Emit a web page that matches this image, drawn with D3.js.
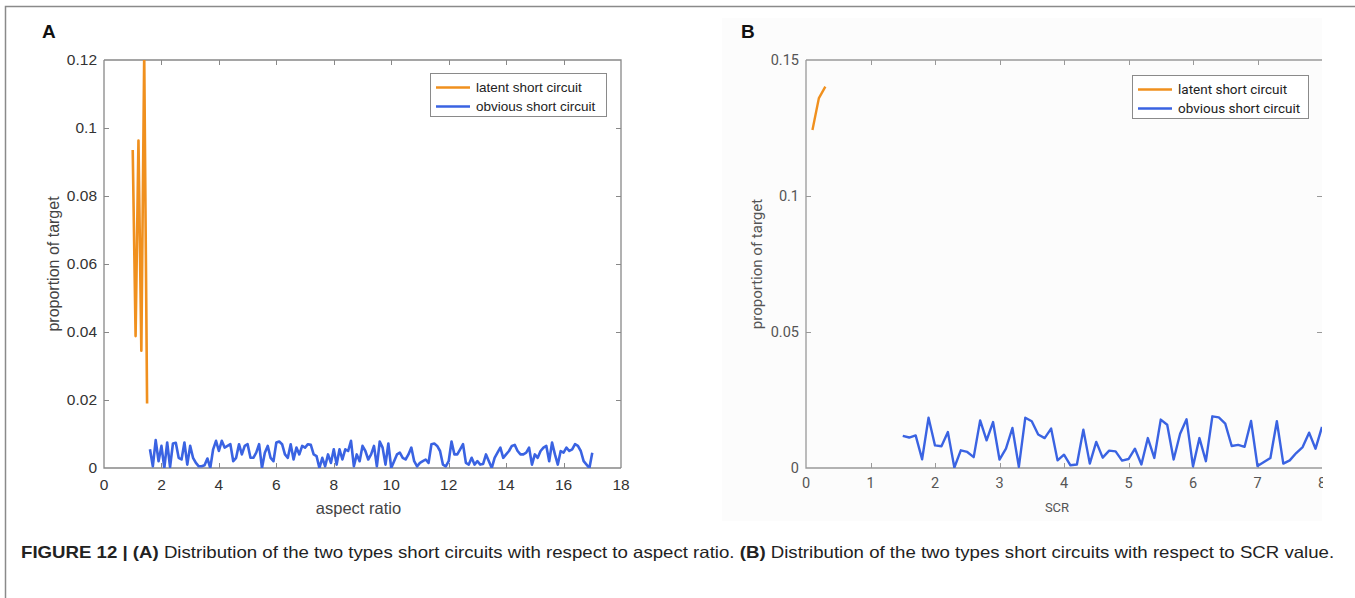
<!DOCTYPE html>
<html>
<head>
<meta charset="utf-8">
<script src="https://cdn.jsdelivr.net/npm/d3@7"></script>
<style>
  body { margin: 0; background: #fff; }
  svg { display: block; }
</style>
</head>
<body>
<div id="chart"></div>
<script>
// ---- data ----
// panel A: aspect ratio
var latentA_x = [1.0, 1.1, 1.2, 1.3, 1.4, 1.5];
var latentA_y = [0.0935, 0.0388, 0.0963, 0.0345, 0.1215, 0.019];
var obviousA_start = 1.6, obviousA_step = 0.1;
var obviousA_y = [
  0.0055, 0.0005, 0.0082, 0.002, 0.0065, 0.0, 0.0075, 0.0003, 0.0072, 0.0074,
  0.003, 0.0025, 0.0075, 0.001, 0.0065, 0.003, 0.0015, 0.0005, 0.0005, 0.0008,
  0.0028, 0.0, 0.0055, 0.008, 0.005, 0.008, 0.006, 0.0065, 0.007, 0.002,
  0.003, 0.007, 0.004, 0.0065, 0.007, 0.003, 0.003, 0.0045, 0.007, 0.0,
  0.0045, 0.0065, 0.003, 0.002, 0.0075, 0.0078, 0.007, 0.004, 0.003, 0.007,
  0.0025, 0.006, 0.004, 0.0065, 0.006, 0.007, 0.0068, 0.004, 0.0035, 0.0,
  0.003, 0.0005, 0.004, 0.0015, 0.0055, 0.001, 0.0055, 0.0025, 0.0055, 0.005,
  0.008, 0.0005, 0.004, 0.002, 0.0065, 0.005, 0.0025, 0.004, 0.0065, 0.0005,
  0.0078, 0.006, 0.001, 0.0072, 0.0, 0.002, 0.004, 0.0045, 0.003, 0.0025,
  0.004, 0.006, 0.002, 0.0005, 0.0015, 0.002, 0.0025, 0.0015, 0.007, 0.0072,
  0.0065, 0.005, 0.001, 0.0005, 0.002, 0.0078, 0.004, 0.004, 0.0055, 0.007,
  0.0015, 0.001, 0.003, 0.001, 0.002, 0.001, 0.0012, 0.004, 0.002, 0.0,
  0.003, 0.0045, 0.006, 0.003, 0.004, 0.005, 0.0065, 0.0068, 0.005, 0.004,
  0.004, 0.0045, 0.006, 0.001, 0.004, 0.003, 0.005, 0.006, 0.0065, 0.002,
  0.0075, 0.004, 0.001, 0.005, 0.0045, 0.006, 0.005, 0.0055, 0.007, 0.0065,
  0.005, 0.002, 0.001, 0.0, 0.0045
];
var ticksAx = [0, 2, 4, 6, 8, 10, 12, 14, 16, 18];
var ticksAy = [0, 0.02, 0.04, 0.06, 0.08, 0.1, 0.12];

// panel B: SCR
var latentB_x = [0.1, 0.2, 0.3];
var latentB_y = [0.1243, 0.136, 0.1402];
var obviousB_start = 1.5, obviousB_step = 0.1;
var obviousB_y = [
  0.0118, 0.0112, 0.012, 0.0032, 0.0185, 0.0083, 0.008, 0.0132, 0.0002, 0.0065,
  0.0059, 0.004, 0.0175, 0.0102, 0.0169, 0.0031, 0.0071, 0.0147, 0.0004, 0.0185,
  0.0172, 0.0123, 0.011, 0.0145, 0.0028, 0.0049, 0.001, 0.0013, 0.0141, 0.0016,
  0.0096, 0.0038, 0.0064, 0.0061, 0.0027, 0.0033, 0.0071, 0.0013, 0.011, 0.0037,
  0.0178, 0.0159, 0.0031, 0.0126, 0.0179, 0.0006, 0.011, 0.0025, 0.019, 0.0186,
  0.0163, 0.0081, 0.0085, 0.0078, 0.0173, 0.0007, 0.0022, 0.0037, 0.0172, 0.0016,
  0.0028, 0.0055, 0.0077, 0.013, 0.0071, 0.0151
];
var ticksBx = [0, 1, 2, 3, 4, 5, 6, 7, 8];
var ticksBy = [0, 0.05, 0.1, 0.15];

var seriesNames = ['latent short circuit', 'obvious short circuit'];
var colors = ['#f0901e', '#3a63e2'];

function toPoints(xs, ys) {
  return ys.map(function(v, i) { return [xs[i], v]; });
}
function gridPoints(start, step, ys) {
  return ys.map(function(v, i) { return [+(start + i * step).toFixed(2), v]; });
}

var W = 1355, H = 598;
var svg = d3.select('#chart').append('svg')
  .attr('width', W).attr('height', H)
  .style('font-family', 'Liberation Sans, Arial, sans-serif');

// pasted-image background of panel B
svg.append('rect')
  .attr('x', 722).attr('y', 18).attr('width', 600).attr('height', 503)
  .attr('fill', '#fcfcfc');

function drawPanel(cfg) {
  var x = d3.scaleLinear().domain(cfg.xDomain).range([cfg.left, cfg.right]);
  var y = d3.scaleLinear().domain(cfg.yDomain).range([cfg.bottom, cfg.top]);
  var g = svg.append('g');

  var clipId = 'clip' + cfg.id;
  g.append('clipPath').attr('id', clipId).append('rect')
    .attr('x', cfg.left).attr('y', cfg.top)
    .attr('width', cfg.right - cfg.left).attr('height', cfg.bottom - cfg.top);

  var axisColor = cfg.axisColor;
  // frame lines
  var fr = 'M' + cfg.left + ',' + cfg.top + 'V' + cfg.bottom + 'H' + cfg.right;
  fr += 'M' + cfg.left + ',' + cfg.top + 'H' + cfg.right;
  if (cfg.rightBorder) fr += 'V' + cfg.bottom;
  g.append('path').attr('d', fr).attr('fill', 'none')
    .attr('stroke', axisColor).attr('stroke-width', 1.3);

  var tl = 5;
  // ticks (inside, all sides)
  cfg.xTicks.forEach(function(t) {
    var px = Math.round(x(t)) + 0.5;
    if (t !== cfg.xDomain[0] && t !== cfg.xDomain[1]) {
      g.append('line').attr('x1', px).attr('x2', px).attr('y1', cfg.bottom).attr('y2', cfg.bottom - tl)
        .attr('stroke', axisColor);
      g.append('line').attr('x1', px).attr('x2', px).attr('y1', cfg.top).attr('y2', cfg.top + tl)
        .attr('stroke', axisColor);
    }
    g.append('text').attr('x', x(t)).attr('y', cfg.bottom + cfg.xLabelDy)
      .attr('text-anchor', 'middle').attr('fill', cfg.textColor)
      .style('font-size', cfg.tickFont + 'px').style('font-family', cfg.tickFamily)
      .text(cfg.xFmt(t));
  });
  cfg.yTicks.forEach(function(t) {
    var py = Math.round(y(t)) + 0.5;
    if (t !== cfg.yDomain[0] && t !== cfg.yDomain[1]) {
      g.append('line').attr('x1', cfg.left).attr('x2', cfg.left + tl).attr('y1', py).attr('y2', py)
        .attr('stroke', axisColor);
      g.append('line').attr('x1', cfg.right).attr('x2', cfg.right - tl).attr('y1', py).attr('y2', py)
        .attr('stroke', axisColor);
    }
    g.append('text').attr('x', cfg.left - 7).attr('y', y(t) + 5)
      .attr('text-anchor', 'end').attr('fill', cfg.textColor)
      .style('font-size', cfg.tickFont + 'px').style('font-family', cfg.tickFamily)
      .text(cfg.yFmt(t));
  });

  // lines
  var line = d3.line().x(function(d) { return x(d[0]); }).y(function(d) { return y(d[1]); });
  var plot = g.append('g').attr('clip-path', 'url(#' + clipId + ')');
  cfg.series.forEach(function(s, i) {
    plot.append('path').datum(s).attr('d', line)
      .attr('fill', 'none').attr('stroke', colors[i])
      .attr('stroke-width', cfg.lineWidth).attr('stroke-linejoin', 'round');
  });

  // axis labels
  g.append('text')
    .attr('transform', 'translate(' + cfg.yLabelX + ',' + ((cfg.top + cfg.bottom) / 2) + ') rotate(-90)')
    .attr('text-anchor', 'middle').attr('fill', cfg.labelColor)
    .style('font-size', cfg.labelFont + 'px').style('font-family', cfg.tickFamily)
    .text('proportion of target');
  g.append('text')
    .attr('x', (cfg.left + cfg.right) / 2 + cfg.xLabelShift).attr('y', cfg.xLabelY)
    .attr('text-anchor', 'middle').attr('fill', cfg.labelColor)
    .style('font-size', cfg.xLabelFont + 'px').style('font-family', cfg.tickFamily)
    .text(cfg.xLabel);

  // panel letter
  g.append('text').attr('x', cfg.letterX).attr('y', 38)
    .style('font-size', '19px').style('font-weight', 'bold').attr('fill', '#111')
    .text(cfg.id);

  // legend
  var lg = g.append('g').attr('transform', 'translate(' + cfg.legX + ',' + cfg.legY + ')');
  lg.append('rect').attr('x', 0.5).attr('y', 0.5).attr('width', 176).attr('height', 43)
    .attr('fill', '#fff').attr('stroke', '#8a8a8a');
  seriesNames.forEach(function(name, i) {
    var ly = 14.5 + i * 19;
    lg.append('line').attr('x1', 6).attr('x2', 40).attr('y1', ly).attr('y2', ly)
      .attr('stroke', colors[i]).attr('stroke-width', 2.5);
    lg.append('text').attr('x', 46).attr('y', ly + 4.5)
      .style('font-size', '13.5px').style('font-family', cfg.tickFamily)
      .attr('fill', '#222').text(name);
  });
}

drawPanel({
  id: 'A', left: 104, right: 621, top: 60, bottom: 468,
  xDomain: [0, 18], yDomain: [0, 0.12], xTicks: ticksAx, yTicks: ticksAy,
  xFmt: function(d) { return d; }, yFmt: function(d) { return d === 0 ? '0' : d3.format('.2~f')(d); },
  series: [toPoints(latentA_x, latentA_y), gridPoints(obviousA_start, obviousA_step, obviousA_y)],
  axisColor: '#888', textColor: '#333', labelColor: '#444', lineWidth: 2.6,
  tickFont: 15.5, tickFamily: 'Liberation Sans, Arial, sans-serif', xLabelDy: 22,
  labelFont: 16, yLabelX: 59, xLabel: 'aspect ratio', xLabelY: 514, xLabelFont: 16.5, xLabelShift: -4,
  letterX: 42, legX: 430, legY: 73, rightBorder: true
});

drawPanel({
  id: 'B', left: 806, right: 1322, top: 60, bottom: 468,
  xDomain: [0, 8], yDomain: [0, 0.15], xTicks: ticksBx, yTicks: ticksBy,
  xFmt: function(d) { return d; }, yFmt: function(d) { return d === 0 ? '0' : d3.format('.2~f')(d); },
  series: [toPoints(latentB_x, latentB_y), gridPoints(obviousB_start, obviousB_step, obviousB_y)],
  axisColor: '#999', textColor: '#555', labelColor: '#555', lineWidth: 2.4,
  tickFont: 14.5, tickFamily: 'Roboto, Liberation Sans, sans-serif', xLabelDy: 20,
  labelFont: 15, yLabelX: 762, xLabel: 'SCR', xLabelY: 512, xLabelFont: 13, xLabelShift: -7,
  letterX: 741, legX: 1132, legY: 75, rightBorder: false
});

// panel B image is cropped at its right edge
svg.append('rect').attr('x', 1323).attr('y', 8).attr('width', W - 1323).attr('height', 520)
  .attr('fill', '#fff');

// outer frame
svg.append('path')
  .attr('d', 'M5.5,' + H + 'V6.5H' + W)
  .attr('fill', 'none').attr('stroke', '#8a8a8a').attr('stroke-width', 1.5);

// caption
var cap = svg.append('text').attr('x', 21).attr('y', 558)
  .style('font-size', '16.5px').style('font-family', 'Liberation Sans Narrow, Liberation Sans, Arial, sans-serif')
  .attr('fill', '#222');
cap.append('tspan').style('font-weight', 'bold').text('FIGURE 12 | (A)');
cap.append('tspan').text(' Distribution of the two types short circuits with respect to aspect ratio. ');
cap.append('tspan').style('font-weight', 'bold').text('(B)');
cap.append('tspan').text(' Distribution of the two types short circuits with respect to SCR value.');
var capW = cap.node().getComputedTextLength();
var target = 1314;
cap.attr('transform', 'translate(21,0) scale(' + (target / capW) + ',1) translate(-21,0)');
</script>
</body>
</html>
